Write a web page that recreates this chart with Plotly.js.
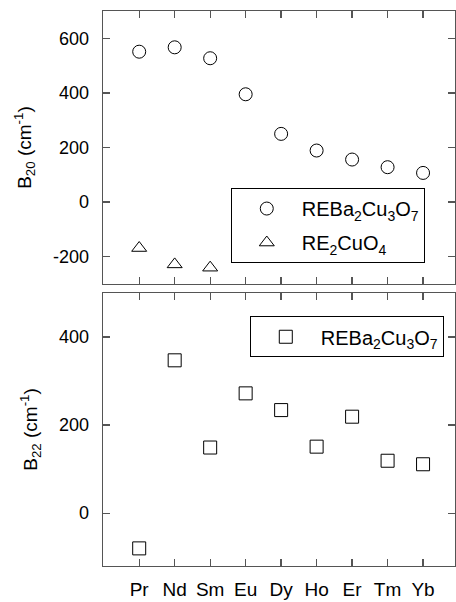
<!DOCTYPE html>
<html><head><meta charset="utf-8">
<script src="https://cdn.plot.ly/plotly-3.0.1.min.js"></script>
<style>html,body{margin:0;padding:0;background:#fff}</style>
</head><body><div id="chart" style="width:456px;height:602px"></div>
<script>
const elements = ["Pr","Nd","Sm","Eu","Dy","Ho","Er","Tm","Yb"];
const b20_123 = [551, 567, 527, 395, 250, 189, 156, 128, 107];
const b20_214_elements = ["Pr","Nd","Sm"];
const b20_214 = [-168, -228, -240];
const b22_123 = [-80, 347, 149, 272, 234, 151, 219, 119, 111];
const b20_ticks = [-200, 0, 200, 400, 600];
const b20_ticktext = ["-200", "0", "200", "400", "600"];
const b22_ticks = [0, 200, 400];
const b22_ticktext = ["0", "200", "400"];

const idx = e => elements.indexOf(e);
const fam = "Liberation Sans, Arial, sans-serif";
const yfont = {family: fam, size: 18, color: "#000"};
const xfont = {family: fam, size: 19, color: "#000"};
const tfont = {family: fam, size: 19, color: "#000"};
const lfont = {family: fam, size: 20, color: "#000"};
const axColor = "#555";

const traces = [
  {x: elements.map(idx), y: b20_123, xaxis: "x", yaxis: "y", mode: "markers", type: "scatter",
   name: "REBa<sub>2</sub>Cu<sub>3</sub>O<sub>7</sub>", legend: "legend", legendgroup: "a",
   marker: {symbol: "circle-open", size: 13, color: "#000", line: {width: 1}}},
  {x: b20_214_elements.map(idx), y: b20_214, xaxis: "x", yaxis: "y", mode: "markers", type: "scatter",
   name: "RE<sub>2</sub>CuO<sub>4</sub>", legend: "legend", legendgroup: "b",
   marker: {symbol: "triangle-up-open", size: 13, color: "#000", line: {width: 1}}},
  {x: elements.map(idx), y: b22_123, xaxis: "x2", yaxis: "y2", mode: "markers", type: "scatter",
   name: "REBa<sub>2</sub>Cu<sub>3</sub>O<sub>7</sub>", legend: "legend2", legendgroup: "c",
   marker: {symbol: "square-open", size: 13, color: "#000", line: {width: 1}}}
];

const xbase = {range: [-1.02, 8.9], tickvals: elements.map((e,i)=>i), ticktext: elements,
  showline: true, linecolor: axColor, linewidth: 1.3, mirror: "ticks", ticks: "inside",
  ticklen: 7, tickcolor: axColor, tickwidth: 1.3, zeroline: false, showgrid: false, tickfont: xfont};
const ybase = {showline: true, linecolor: axColor, linewidth: 1.3, mirror: "ticks", ticks: "inside",
  ticklen: 7, tickcolor: axColor, tickwidth: 1.3, zeroline: false, showgrid: false, tickfont: yfont,
  ticklabelstandoff: 9};

const layout = {
  width: 456, height: 602,
  margin: {l: 103, r: 1, t: 11, b: 36},
  paper_bgcolor: "#fff", plot_bgcolor: "#fff",
  font: yfont,
  xaxis: Object.assign({}, xbase, {anchor: "y", showticklabels: false}),
  yaxis: Object.assign({}, ybase, {domain: [0.508, 1], range: [-300, 700], tickvals: b20_ticks, ticktext: b20_ticktext,
    title: {text: "B<sub>20</sub> (cm<sup>-1</sup>)", font: tfont, standoff: 16}}),
  xaxis2: Object.assign({}, xbase, {anchor: "y2", ticklabelstandoff: 6}),
  yaxis2: Object.assign({}, ybase, {domain: [0, 0.492], range: [-120, 500], tickvals: b22_ticks, ticktext: b22_ticktext,
    title: {text: "B<sub>22</sub> (cm<sup>-1</sup>)", font: tfont, standoff: 16}}),
  legend: {x: 0.363, y: 0.681, xanchor: "left", yanchor: "top", bordercolor: "#000", borderwidth: 1,
    bgcolor: "#fff", font: lfont, itemwidth: 60, tracegroupgap: 5, entrywidth: 163},
  legend2: {x: 0.417, y: 0.450, xanchor: "left", yanchor: "top", bordercolor: "#000", borderwidth: 1,
    bgcolor: "#fff", font: lfont, itemwidth: 60, entrywidth: 141},
  showlegend: true
};

Plotly.newPlot("chart", traces, layout, {staticPlot: true, displayModeBar: false});
</script></body></html>
